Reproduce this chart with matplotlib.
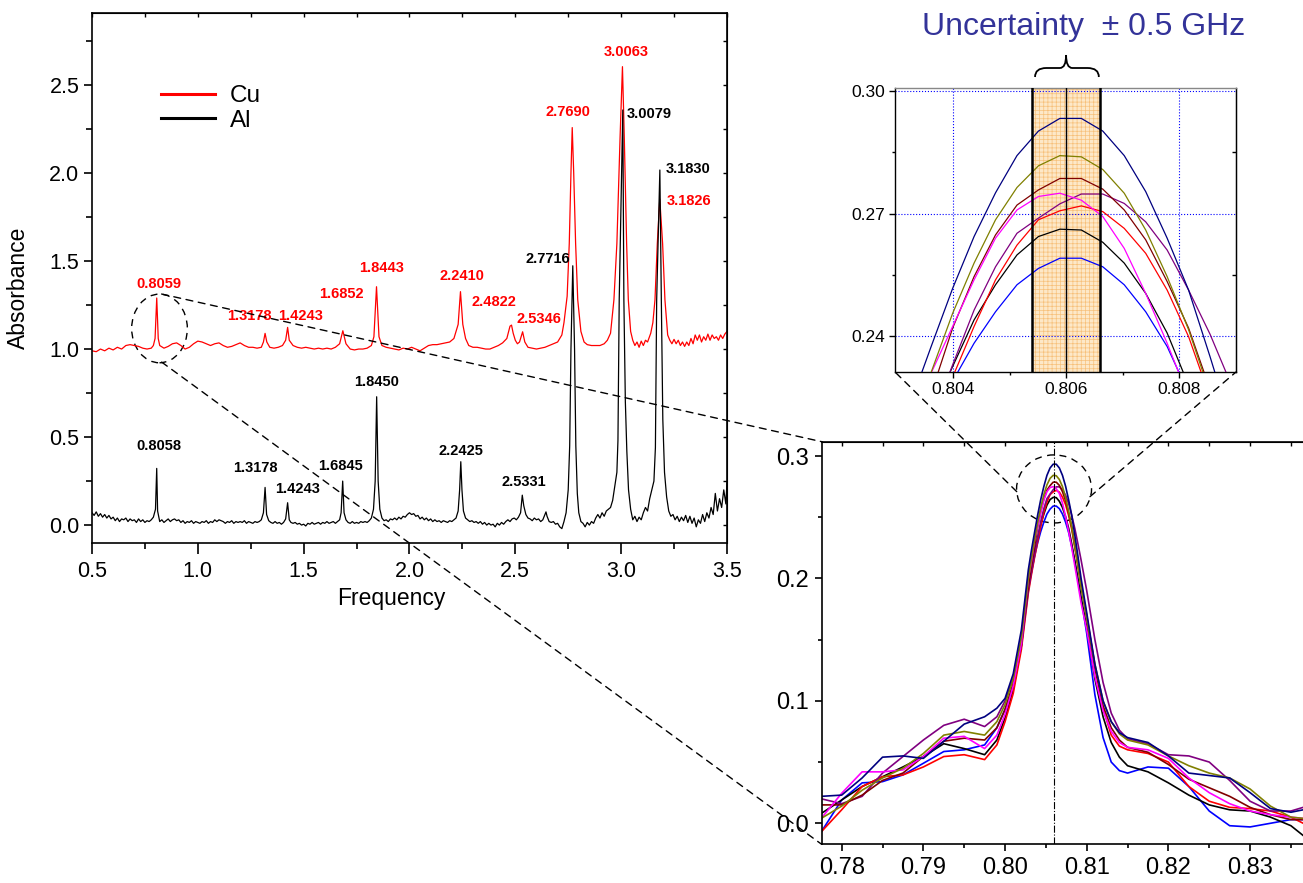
import matplotlib
matplotlib.use("Agg")
import matplotlib.pyplot as plt
from matplotlib.patches import Ellipse, ConnectionPatch, PathPatch
from matplotlib.path import Path
from matplotlib.ticker import MultipleLocator, FixedLocator, FormatStrFormatter, NullFormatter

plt.rcParams['font.family'] = ['Liberation Sans', 'DejaVu Sans']
plt.rcParams['hatch.linewidth'] = 0.5

# ---------------- main spectra ----------------
al_freq = (
    [0.50, 0.51, 0.52, 0.53, 0.54, 0.55, 0.56, 0.57, 0.58, 0.59]
    + [0.60, 0.61, 0.62, 0.63, 0.64, 0.65, 0.66, 0.67, 0.68, 0.69]
    + [0.70, 0.71, 0.72, 0.73, 0.74, 0.75, 0.76, 0.77, 0.78, 0.79]
    + [0.80, 0.8058, 0.81, 0.82, 0.83, 0.84, 0.85, 0.86, 0.87, 0.88]
    + [0.89, 0.90, 0.91, 0.92, 0.93, 0.94, 0.95, 0.96, 0.97, 0.98, 0.99]
    + [1.00, 1.01, 1.02, 1.03, 1.04, 1.05, 1.06, 1.07, 1.08, 1.09]
    + [1.10, 1.11, 1.12, 1.13, 1.14, 1.15, 1.16, 1.17, 1.18, 1.19]
    + [1.20, 1.21, 1.22, 1.23, 1.24, 1.25, 1.26, 1.27, 1.28, 1.29]
    + [1.30, 1.31, 1.3178, 1.325, 1.335, 1.345, 1.355, 1.365, 1.375, 1.385, 1.395, 1.405]
    + [1.415, 1.4243, 1.432, 1.44, 1.45, 1.46, 1.47, 1.48, 1.49, 1.50]
    + [1.51, 1.52, 1.53, 1.54, 1.55, 1.56, 1.57, 1.58, 1.59, 1.60]
    + [1.61, 1.62, 1.63, 1.64, 1.65, 1.66, 1.67, 1.677, 1.6845, 1.691, 1.70]
    + [1.71, 1.72, 1.73, 1.74, 1.75, 1.76, 1.77, 1.78, 1.79, 1.80, 1.81, 1.82]
    + [1.83, 1.838, 1.845, 1.852, 1.86, 1.87, 1.88, 1.89, 1.90]
    + [1.91, 1.92, 1.93, 1.94, 1.95, 1.96, 1.97, 1.98, 1.99, 2.00]
    + [2.01, 2.02, 2.03, 2.04, 2.05, 2.06, 2.07, 2.08, 2.09, 2.10]
    + [2.11, 2.12, 2.13, 2.14, 2.15, 2.16, 2.17, 2.18, 2.19, 2.20, 2.21, 2.22]
    + [2.23, 2.237, 2.2425, 2.248, 2.255, 2.265, 2.275, 2.285, 2.295, 2.305]
    + [2.315, 2.325, 2.335, 2.345, 2.355, 2.365, 2.375, 2.385, 2.395, 2.405]
    + [2.415, 2.425, 2.435, 2.445, 2.455, 2.465, 2.475, 2.485, 2.495, 2.505, 2.515, 2.525]
    + [2.533, 2.54, 2.55, 2.56, 2.57, 2.58, 2.59, 2.60, 2.61, 2.62, 2.63]
    + [2.64, 2.645, 2.65, 2.66, 2.67, 2.68, 2.69, 2.70, 2.71, 2.72, 2.73, 2.74]
    + [2.75, 2.757, 2.763, 2.7716, 2.78, 2.786, 2.793, 2.80]
    + [2.81, 2.82, 2.83, 2.84, 2.85, 2.86, 2.87, 2.88, 2.89, 2.90, 2.91, 2.92, 2.93, 2.94, 2.95]
    + [2.96, 2.97, 2.98, 2.985, 2.991, 3.0079, 3.013, 3.02, 3.027, 3.035, 3.045]
    + [3.055, 3.065, 3.075, 3.085, 3.095, 3.105, 3.115, 3.125, 3.135, 3.145, 3.155]
    + [3.162, 3.168, 3.183, 3.19, 3.197, 3.205, 3.215, 3.225]
    + [3.235, 3.245, 3.255, 3.265, 3.275, 3.285, 3.295, 3.305, 3.315, 3.325, 3.335, 3.345, 3.355]
    + [3.365, 3.375, 3.385, 3.395, 3.405, 3.415, 3.425, 3.435, 3.445, 3.455, 3.465, 3.475, 3.485, 3.495, 3.50]
)
al_abs = (
    [0.07, 0.055, 0.075, 0.05, 0.065, 0.045, 0.06, 0.04, 0.055, 0.035]
    + [0.045, 0.025, 0.04, 0.02, 0.035, 0.03, 0.04, 0.02, 0.035, 0.025]
    + [0.03, 0.015, 0.035, 0.02, 0.03, 0.015, 0.025, 0.02, 0.03, 0.045]
    + [0.09, 0.322, 0.08, 0.02, 0.03, 0.015, 0.025, 0.035, 0.02, 0.03]
    + [0.035, 0.025, 0.03, 0.015, 0.025, 0.01, 0.02, 0.015, 0.025, 0.01, 0.02]
    + [0.015, 0.01, 0.02, 0.015, 0.025, 0.01, 0.02, 0.015, 0.03, 0.02]
    + [0.03, 0.025, 0.02, 0.01, 0.02, 0.015, 0.025, 0.01, 0.02, 0.015]
    + [0.02, 0.015, 0.025, 0.01, 0.02, 0.015, 0.01, 0.02, 0.015, 0.02]
    + [0.03, 0.07, 0.214, 0.06, 0.025, 0.015, 0.01, 0.02, 0.01, 0.015, 0.005, 0.015]
    + [0.035, 0.127, 0.03, 0.015, 0.01, 0.015, 0.005, 0.01, 0.0, 0.005]
    + [-0.005, 0.01, 0.005, 0.015, 0.005, 0.01, 0.015, 0.005, 0.015, 0.01]
    + [0.02, 0.01, 0.015, 0.02, 0.01, 0.02, 0.03, 0.07, 0.25, 0.07, 0.03]
    + [0.015, 0.01, 0.02, 0.01, 0.015, 0.01, 0.02, 0.015, 0.02, 0.015, 0.025, 0.04]
    + [0.09, 0.25, 0.729, 0.25, 0.09, 0.04, 0.025, 0.03, 0.02]
    + [0.035, 0.03, 0.04, 0.03, 0.045, 0.035, 0.05, 0.045, 0.06, 0.07]
    + [0.06, 0.065, 0.05, 0.055, 0.035, 0.045, 0.03, 0.04, 0.025, 0.035]
    + [0.02, 0.03, 0.02, 0.025, 0.015, 0.025, 0.02, 0.015, 0.025, 0.02, 0.03, 0.04]
    + [0.08, 0.2, 0.36, 0.2, 0.08, 0.04, 0.03, 0.02, 0.025, 0.015]
    + [0.02, 0.01, 0.02, 0.005, 0.015, 0.0, 0.01, 0.0, 0.005, -0.01]
    + [0.01, 0.0, 0.015, 0.005, 0.02, 0.03, 0.02, 0.035, 0.04, 0.03, 0.045, 0.07]
    + [0.17, 0.11, 0.06, 0.04, 0.035, 0.025, 0.04, 0.03, 0.035, 0.02, 0.03]
    + [0.06, 0.075, 0.05, 0.02, 0.015, 0.02, 0.005, 0.01, -0.01, -0.02, 0.02, 0.07]
    + [0.2, 0.45, 1.0, 1.473, 1.0, 0.45, 0.18, 0.07]
    + [0.02, 0.01, -0.01, 0.015, 0.0, 0.02, 0.01, 0.04, 0.06, 0.04, 0.07, 0.05, 0.08, 0.09, 0.1]
    + [0.14, 0.22, 0.3, 0.48, 1.28, 2.358, 1.28, 0.7, 0.42, 0.2, 0.09]
    + [0.03, 0.05, 0.02, 0.045, 0.03, 0.07, 0.1, 0.08, 0.15, 0.2, 0.25]
    + [0.44, 1.28, 2.017, 1.28, 0.6, 0.3, 0.16, 0.08]
    + [0.05, 0.06, 0.03, 0.05, 0.02, 0.045, 0.025, 0.055, 0.015, 0.05, 0.01, 0.04, -0.01]
    + [0.03, 0.01, 0.06, 0.02, 0.07, 0.04, 0.1, 0.06, 0.18, 0.08, 0.15, 0.1, 0.2, 0.12, 0.24]
)

cu_freq = (
    [0.50, 0.52, 0.54, 0.56, 0.58, 0.60, 0.62, 0.64, 0.66, 0.68]
    + [0.70, 0.72, 0.74, 0.76, 0.78, 0.79, 0.798, 0.8059, 0.813, 0.82]
    + [0.84, 0.86, 0.88, 0.90, 0.92, 0.94, 0.96, 0.98, 1.00, 1.02]
    + [1.04, 1.06, 1.08, 1.10, 1.12, 1.14, 1.16, 1.18, 1.20, 1.22]
    + [1.24, 1.26, 1.28, 1.30, 1.31, 1.3178, 1.326, 1.34, 1.36, 1.38]
    + [1.40, 1.415, 1.4243, 1.432, 1.45, 1.47, 1.49, 1.51, 1.53, 1.55]
    + [1.57, 1.59, 1.61, 1.63, 1.65, 1.67, 1.6852, 1.70, 1.72, 1.74]
    + [1.76, 1.78, 1.80, 1.82, 1.832, 1.8443, 1.856, 1.87, 1.89, 1.91]
    + [1.93, 1.95, 1.97, 1.99, 2.01, 2.03, 2.05, 2.07, 2.09, 2.11]
    + [2.13, 2.15, 2.17, 2.19, 2.21, 2.23, 2.241, 2.252, 2.265, 2.28]
    + [2.30, 2.32, 2.34, 2.36, 2.38, 2.40, 2.42, 2.44, 2.46, 2.475]
    + [2.4822, 2.49, 2.50, 2.51, 2.52, 2.5346, 2.545, 2.56, 2.58, 2.60]
    + [2.62, 2.64, 2.66, 2.68, 2.70, 2.72, 2.73, 2.745, 2.755, 2.763]
    + [2.769, 2.776, 2.785, 2.795, 2.81, 2.825, 2.84, 2.86, 2.88, 2.90]
    + [2.92, 2.935, 2.95, 2.966, 2.98, 2.995, 3.0063, 3.015, 3.026, 3.034]
    + [3.045, 3.055, 3.065, 3.075, 3.085, 3.095, 3.105, 3.115, 3.125, 3.14]
    + [3.15, 3.16, 3.171, 3.1826, 3.196, 3.207, 3.22, 3.23, 3.24, 3.25]
    + [3.26, 3.27, 3.28, 3.29, 3.30, 3.31, 3.32, 3.33, 3.34, 3.35]
    + [3.36, 3.37, 3.38, 3.39, 3.40, 3.41, 3.42, 3.43, 3.44, 3.45]
    + [3.46, 3.47, 3.48, 3.49, 3.50]
)
cu_abs = (
    [0.99, 0.985, 1.0, 0.99, 1.005, 0.995, 1.01, 1.0, 1.02, 1.025]
    + [1.02, 1.015, 1.005, 1.0, 1.005, 1.02, 1.06, 1.29, 1.06, 1.02]
    + [1.005, 1.015, 1.03, 1.035, 1.02, 1.0, 1.01, 1.03, 1.045, 1.04]
    + [1.03, 1.02, 1.03, 1.035, 1.02, 1.01, 1.015, 1.025, 1.035, 1.02]
    + [1.01, 1.01, 1.005, 1.01, 1.04, 1.089, 1.04, 1.01, 1.005, 1.01]
    + [1.02, 1.05, 1.123, 1.05, 1.02, 1.01, 1.005, 1.01, 1.005, 1.0]
    + [1.005, 1.0, 1.005, 1.0, 1.01, 1.03, 1.104, 1.03, 1.0, 0.995]
    + [1.0, 1.0, 1.005, 1.02, 1.07, 1.354, 1.07, 1.02, 1.01, 1.005]
    + [1.0, 0.995, 1.005, 1.0, 1.01, 1.0, 0.99, 1.005, 1.02, 1.025]
    + [1.025, 1.03, 1.035, 1.04, 1.06, 1.14, 1.326, 1.14, 1.06, 1.02]
    + [1.01, 1.01, 1.005, 1.0, 1.0, 1.01, 1.02, 1.035, 1.06, 1.13]
    + [1.136, 1.09, 1.05, 1.03, 1.04, 1.098, 1.04, 1.01, 1.005, 1.0]
    + [1.005, 1.01, 1.02, 1.03, 1.04, 1.08, 1.15, 1.3, 1.6, 2.0]
    + [2.258, 2.0, 1.6, 1.28, 1.1, 1.04, 1.025, 1.02, 1.02, 1.02]
    + [1.03, 1.05, 1.09, 1.28, 1.6, 2.2, 2.604, 2.2, 1.6, 1.28]
    + [1.1, 1.05, 1.02, 1.04, 1.01, 1.045, 1.02, 1.05, 1.04, 1.09]
    + [1.15, 1.28, 1.6, 1.852, 1.6, 1.28, 1.08, 1.05, 1.03, 1.055]
    + [1.03, 1.05, 1.02, 1.04, 1.015, 1.04, 1.02, 1.06, 1.03, 1.08]
    + [1.05, 1.08, 1.04, 1.07, 1.05, 1.085, 1.05, 1.08, 1.06, 1.07]
    + [1.05, 1.08, 1.06, 1.085, 1.1]
)
assert len(al_freq) == len(al_abs) and len(cu_freq) == len(cu_abs)

cu_peak_labels = ['0.8059', '1.3178', '1.4243', '1.6852', '1.8443', '2.2410',
                  '2.4822', '2.5346', '2.7690', '3.0063', '3.1826']
al_peak_labels = ['0.8058', '1.3178', '1.4243', '1.6845', '1.8450', '2.2425',
                  '2.5331', '2.7716', '3.0079', '3.1830']
# label anchor positions (layout)
cu_label_pos = [(0.815, 1.372), (1.242, 1.188), (1.485, 1.188), (1.679, 1.315),
                (1.870, 1.463), (2.248, 1.415), (2.399, 1.267), (2.612, 1.170),
                (2.749, 2.347), (3.023, 2.688), (3.320, 1.841)]
al_label_pos = [(0.817, 0.449), (1.272, 0.324), (1.472, 0.2045), (1.676, 0.338),
                (1.844, 0.8125), (2.243, 0.420), (2.539, 0.244), (2.654, 1.511),
                (3.131, 2.335), (3.315, 2.023)]

# ---------------- zoomed peak: 8 repeated measurements ----------------
zoom_freq = [0.7775, 0.780, 0.7825, 0.785, 0.7875, 0.790, 0.7925, 0.795, 0.7975, 0.799, 0.800, 0.801, 0.802,
             0.80285, 0.80323, 0.80361, 0.80399, 0.80437, 0.80475, 0.80513, 0.80551, 0.80589,
             0.80627, 0.80665, 0.80703, 0.80741, 0.80779, 0.80817, 0.80855, 0.80893, 0.80931,
             0.810, 0.811, 0.812, 0.813, 0.814, 0.815, 0.8175, 0.820, 0.8225, 0.825, 0.8275, 0.830, 0.8325, 0.835, 0.8365]
run_navy = ([0.022, 0.023, 0.037, 0.054, 0.055, 0.053, 0.067, 0.081, 0.087, 0.094, 0.102, 0.122, 0.158]
            + [0.207, 0.223, 0.2375, 0.2517, 0.2644, 0.2751, 0.2842, 0.2902, 0.2933, 0.2933, 0.2902, 0.2842, 0.2754, 0.2640, 0.2513, 0.2350, 0.218, 0.200]
            + [0.172, 0.130, 0.100, 0.083, 0.074, 0.070, 0.066, 0.055, 0.041, 0.039, 0.037, 0.025, 0.012, 0.009, 0.011])
run_olive = ([0.004, 0.014, 0.027, 0.037, 0.045, 0.057, 0.072, 0.075, 0.072, 0.083, 0.097, 0.118, 0.152]
             + [0.200, 0.216, 0.2312, 0.2456, 0.2579, 0.2685, 0.2764, 0.2817, 0.2842, 0.2839, 0.2808, 0.2750, 0.2660, 0.2546, 0.2416, 0.226, 0.210, 0.193]
             + [0.168, 0.130, 0.100, 0.083, 0.073, 0.068, 0.064, 0.055, 0.047, 0.041, 0.037, 0.028, 0.014, 0.005, 0.004])
run_maroon = ([0.015, 0.015, 0.023, 0.035, 0.041, 0.0545, 0.067, 0.0695, 0.068, 0.078, 0.093, 0.114, 0.148]
              + [0.194, 0.210, 0.226, 0.242, 0.2546, 0.2648, 0.2721, 0.2758, 0.2786, 0.2786, 0.2760, 0.2709, 0.2636, 0.2534, 0.2420, 0.227, 0.211, 0.194]
              + [0.168, 0.127, 0.096, 0.078, 0.068, 0.062, 0.058, 0.048, 0.036, 0.029, 0.022, 0.013, 0.007, 0.003, 0.003])
run_magenta = ([0.004, 0.0245, 0.042, 0.042, 0.0436, 0.0545, 0.0695, 0.071, 0.061, 0.072, 0.089, 0.112, 0.147]
               + [0.200, 0.214, 0.231, 0.2424, 0.2538, 0.264, 0.2709, 0.2742, 0.2750, 0.2733, 0.2693, 0.2615, 0.2505, 0.2383, 0.225, 0.210, 0.195, 0.180]
               + [0.158, 0.120, 0.092, 0.075, 0.066, 0.062, 0.060, 0.053, 0.037, 0.025, 0.016, 0.010, 0.007, 0.005, 0.004])
run_purple = ([0.020, 0.016, 0.022, 0.041, 0.0545, 0.068, 0.080, 0.085, 0.079, 0.087, 0.100, 0.118, 0.145]
              + [0.190, 0.205, 0.219, 0.233, 0.2464, 0.2570, 0.2652, 0.2689, 0.2724, 0.2748, 0.2748, 0.2725, 0.2680, 0.2611, 0.2513, 0.2405, 0.228, 0.215]
              + [0.190, 0.150, 0.115, 0.090, 0.076, 0.069, 0.065, 0.056, 0.055, 0.050, 0.035, 0.018, 0.010, 0.010, 0.013])
run_red = ([-0.007, 0.011, 0.030, 0.038, 0.0395, 0.046, 0.0545, 0.056, 0.052, 0.064, 0.083, 0.106, 0.142]
           + [0.188, 0.203, 0.217, 0.230, 0.2424, 0.2538, 0.2623, 0.2685, 0.2707, 0.2719, 0.2705, 0.2664, 0.2603, 0.2513, 0.2399, 0.225, 0.210, 0.195]
           + [0.170, 0.128, 0.094, 0.072, 0.063, 0.060, 0.057, 0.050, 0.030, 0.018, 0.013, 0.012, 0.010, 0.005, 0.000])
run_black = ([0.008, 0.019, 0.030, 0.038, 0.046, 0.0545, 0.065, 0.061, 0.056, 0.068, 0.086, 0.109, 0.145]
             + [0.197, 0.209, 0.221, 0.2326, 0.2440, 0.2526, 0.2599, 0.2644, 0.2662, 0.2660, 0.2630, 0.2579, 0.2505, 0.2408, 0.228, 0.214, 0.199, 0.184]
             + [0.160, 0.118, 0.087, 0.066, 0.054, 0.047, 0.042, 0.033, 0.023, 0.015, 0.011, 0.010, 0.005, -0.002, -0.010])
run_blue = ([-0.007, 0.019, 0.033, 0.034, 0.0395, 0.049, 0.0586, 0.060, 0.064, 0.078, 0.093, 0.113, 0.146]
            + [0.193, 0.205, 0.218, 0.229, 0.2383, 0.2460, 0.2526, 0.2566, 0.2591, 0.2591, 0.2570, 0.2526, 0.2460, 0.2375, 0.226, 0.213, 0.199, 0.184]
            + [0.155, 0.105, 0.070, 0.050, 0.043, 0.041, 0.046, 0.045, 0.030, 0.010, -0.002, -0.003, 0.000, 0.003, 0.003])
runs = [run_blue, run_black, run_red, run_purple, run_maroon, run_magenta, run_olive, run_navy]
run_colors = ['#0000ff', '#000000', '#ff0000', '#800080', '#800000', '#ff00ff', '#808000', '#000080']
for r in runs:
    assert len(r) == len(zoom_freq)

peak_center = 0.806
uncert_lo, uncert_hi = 0.8054, 0.8066

# ---------------- figure ----------------
fig = plt.figure(figsize=(13.03, 8.83), dpi=100)

# main axes
ax = fig.add_axes([0.0706, 0.3850, 0.4873, 0.6003])
l_cu, = ax.plot(cu_freq, cu_abs, color='#ff0000', lw=0.9)
l_al, = ax.plot(al_freq, al_abs, color='black', lw=0.9)
ax.set_xlim(0.5, 3.5)
ax.set_ylim(-0.102, 2.909)
ax.xaxis.set_major_locator(MultipleLocator(0.5))
ax.xaxis.set_minor_locator(MultipleLocator(0.25))
ax.yaxis.set_major_locator(MultipleLocator(0.5))
ax.yaxis.set_minor_locator(MultipleLocator(0.25))
ax.xaxis.set_major_formatter(FormatStrFormatter('%.1f'))
ax.yaxis.set_major_formatter(FormatStrFormatter('%.1f'))
ax.tick_params(which='major', direction='out', length=6, width=1.2, labelsize=15.5, pad=3)
ax.tick_params(which='minor', direction='out', length=4, width=1.2)
ax.tick_params(axis='x', which='major', length=8, pad=5)
for s in ax.spines.values():
    s.set_linewidth(1.2)
secx = ax.secondary_xaxis('top')
secx.xaxis.set_major_locator(MultipleLocator(0.25))
secx.xaxis.set_major_formatter(NullFormatter())
secx.tick_params(direction='in', length=3, width=1)
secy = ax.secondary_yaxis('right')
secy.yaxis.set_major_locator(MultipleLocator(0.25))
secy.yaxis.set_major_formatter(NullFormatter())
secy.tick_params(direction='in', length=3, width=1)

ax.set_xlabel('Frequency', fontsize=16.5)
ax.set_ylabel('Absorbance', fontsize=16.5)
ax.xaxis.set_label_coords(0.472, -0.083)
ax.yaxis.set_label_coords(-0.097, 0.482)

for txt, (x, y) in zip(cu_peak_labels, cu_label_pos):
    ax.text(x, y, txt, color='#ff0000', fontsize=10.5, fontweight='bold', ha='center', va='center')
for txt, (x, y) in zip(al_peak_labels, al_label_pos):
    ax.text(x, y, txt, color='black', fontsize=10.5, fontweight='bold', ha='center', va='center')

leg = ax.legend([l_cu, l_al], ['Cu', 'Al'], loc='upper left', bbox_to_anchor=(0.075, 0.905),
                frameon=False, fontsize=17.5, handlelength=2.2, handletextpad=0.6, labelspacing=0.1)
for h in leg.legend_handles:
    h.set_linewidth(2.2)

ax.add_patch(Ellipse((0.819, 1.117), 0.263, 0.39, fill=False, ls=(0, (5, 4)), lw=1.0, color='k'))

# bottom-right zoom axes
ax3 = fig.add_axes([0.6306, 0.0438, 0.3748, 0.456])
for r, c in zip(runs, run_colors):
    ax3.plot(zoom_freq, r, color=c, lw=1.2)
ax3.set_xlim(0.77755, 0.83734)
ax3.set_ylim(-0.0172, 0.3117)
ax3.xaxis.set_major_locator(MultipleLocator(0.01))
ax3.xaxis.set_minor_locator(MultipleLocator(0.005))
ax3.yaxis.set_major_locator(MultipleLocator(0.1))
ax3.yaxis.set_minor_locator(MultipleLocator(0.05))
ax3.xaxis.set_major_formatter(FormatStrFormatter('%.2f'))
ax3.yaxis.set_major_formatter(FormatStrFormatter('%.1f'))
ax3.tick_params(which='major', direction='out', length=5, width=1.2, labelsize=17, pad=4)
ax3.tick_params(which='minor', direction='out', length=3, width=1.2)
for s in ax3.spines.values():
    s.set_linewidth(1.2)
sec3 = ax3.secondary_xaxis('top')
sec3.xaxis.set_major_locator(MultipleLocator(0.005))
sec3.xaxis.set_major_formatter(NullFormatter())
sec3.tick_params(direction='in', length=3, width=1)
ax3.axvline(peak_center, color='k', lw=0.8, ls='-.')
ax3.add_patch(Ellipse((0.806, 0.2731), 0.00918, 0.0556, fill=False, ls=(0, (5, 4)), lw=1.0, color='k'))

# top-right inset
ax2 = fig.add_axes([0.6869, 0.5787, 0.2617, 0.3216])
inset_xticks = [0.804, 0.806, 0.808]
inset_yticks = [0.24, 0.27, 0.30]
ax2.axvspan(uncert_lo, uncert_hi, facecolor='#fde8c8', edgecolor='#f7c07a', hatch='++++', lw=0, zorder=0.5)
for v in inset_xticks:
    ax2.axvline(v, color='#0000ff', ls=':', lw=0.8, zorder=1)
for v in inset_yticks:
    ax2.axhline(v, color='#0000ff', ls=':', lw=0.8, zorder=1)
for r, c in zip(runs, run_colors):
    ax2.plot(zoom_freq, r, color=c, lw=0.9, zorder=3)
ax2.axvline(uncert_lo, color='k', lw=1.8, zorder=4)
ax2.axvline(uncert_hi, color='k', lw=1.8, zorder=4)
ax2.axvline(peak_center, color='k', lw=1.0, zorder=4)
ax2.set_xlim(0.80297, 0.80901)
ax2.set_ylim(0.23126, 0.30073)
ax2.xaxis.set_major_locator(FixedLocator(inset_xticks))
ax2.xaxis.set_minor_locator(FixedLocator([0.805, 0.807]))
ax2.yaxis.set_major_locator(FixedLocator(inset_yticks))
ax2.yaxis.set_minor_locator(FixedLocator([0.255, 0.285]))
ax2.xaxis.set_major_formatter(FormatStrFormatter('%.3f'))
ax2.yaxis.set_major_formatter(FormatStrFormatter('%.2f'))
ax2.tick_params(which='major', direction='out', length=4, width=1, labelsize=12.5, pad=3)
ax2.tick_params(which='minor', direction='out', length=2.5, width=1)
for s in ax2.spines.values():
    s.set_linewidth(1.0)
ax2.spines['top'].set_color('#888888')
sec2y = ax2.secondary_yaxis('right')
sec2y.yaxis.set_major_locator(FixedLocator([0.255, 0.285]))
sec2y.yaxis.set_major_formatter(NullFormatter())
sec2y.tick_params(direction='in', length=3, width=1)

# curly brace above the uncertainty band
tr = ax2.transData
b0, b1 = 0.30343, 0.30563
tip = 0.30881
lo, hi, mid = uncert_lo + 0.00005, uncert_hi - 0.00002, (uncert_lo + uncert_hi) / 2
verts = [(lo, b0), (lo, b1), (lo + 0.0002, b1),
         (mid - 0.00011, b1), (mid, b1), (mid, tip),
         (mid, b1), (mid + 0.00011, b1),
         (hi - 0.0002, b1), (hi, b1), (hi, b0)]
codes = [Path.MOVETO, Path.CURVE3, Path.CURVE3,
         Path.LINETO, Path.CURVE3, Path.CURVE3,
         Path.CURVE3, Path.CURVE3,
         Path.LINETO, Path.CURVE3, Path.CURVE3]
ax2.add_patch(PathPatch(Path(verts, codes), fill=False, lw=1.3, color='k', clip_on=False, transform=tr))

fig.text(1084 / 1303, 1 - 27 / 883, 'Uncertainty  \u00b1 0.5 GHz', ha='center', va='center',
         fontsize=23, color='#333399')

# zoom connector lines
dash = (0, (5, 4))
for xyA, axA, xyB, axB in [((0.829, 1.3125), ax, (0, 1), ax3),
                           ((0.829, 0.926), ax, (0, 0), ax3),
                           ((0.80143, 0.2709), ax3, (0, 0), ax2),
                           ((0.8104, 0.2668), ax3, (1, 0), ax2)]:
    con = ConnectionPatch(xyA=xyA, coordsA=axA.transData, xyB=xyB, coordsB=axB.transAxes,
                          color='k', lw=1.0, ls=dash)
    fig.add_artist(con)

fig.savefig('out.png', dpi=100)
